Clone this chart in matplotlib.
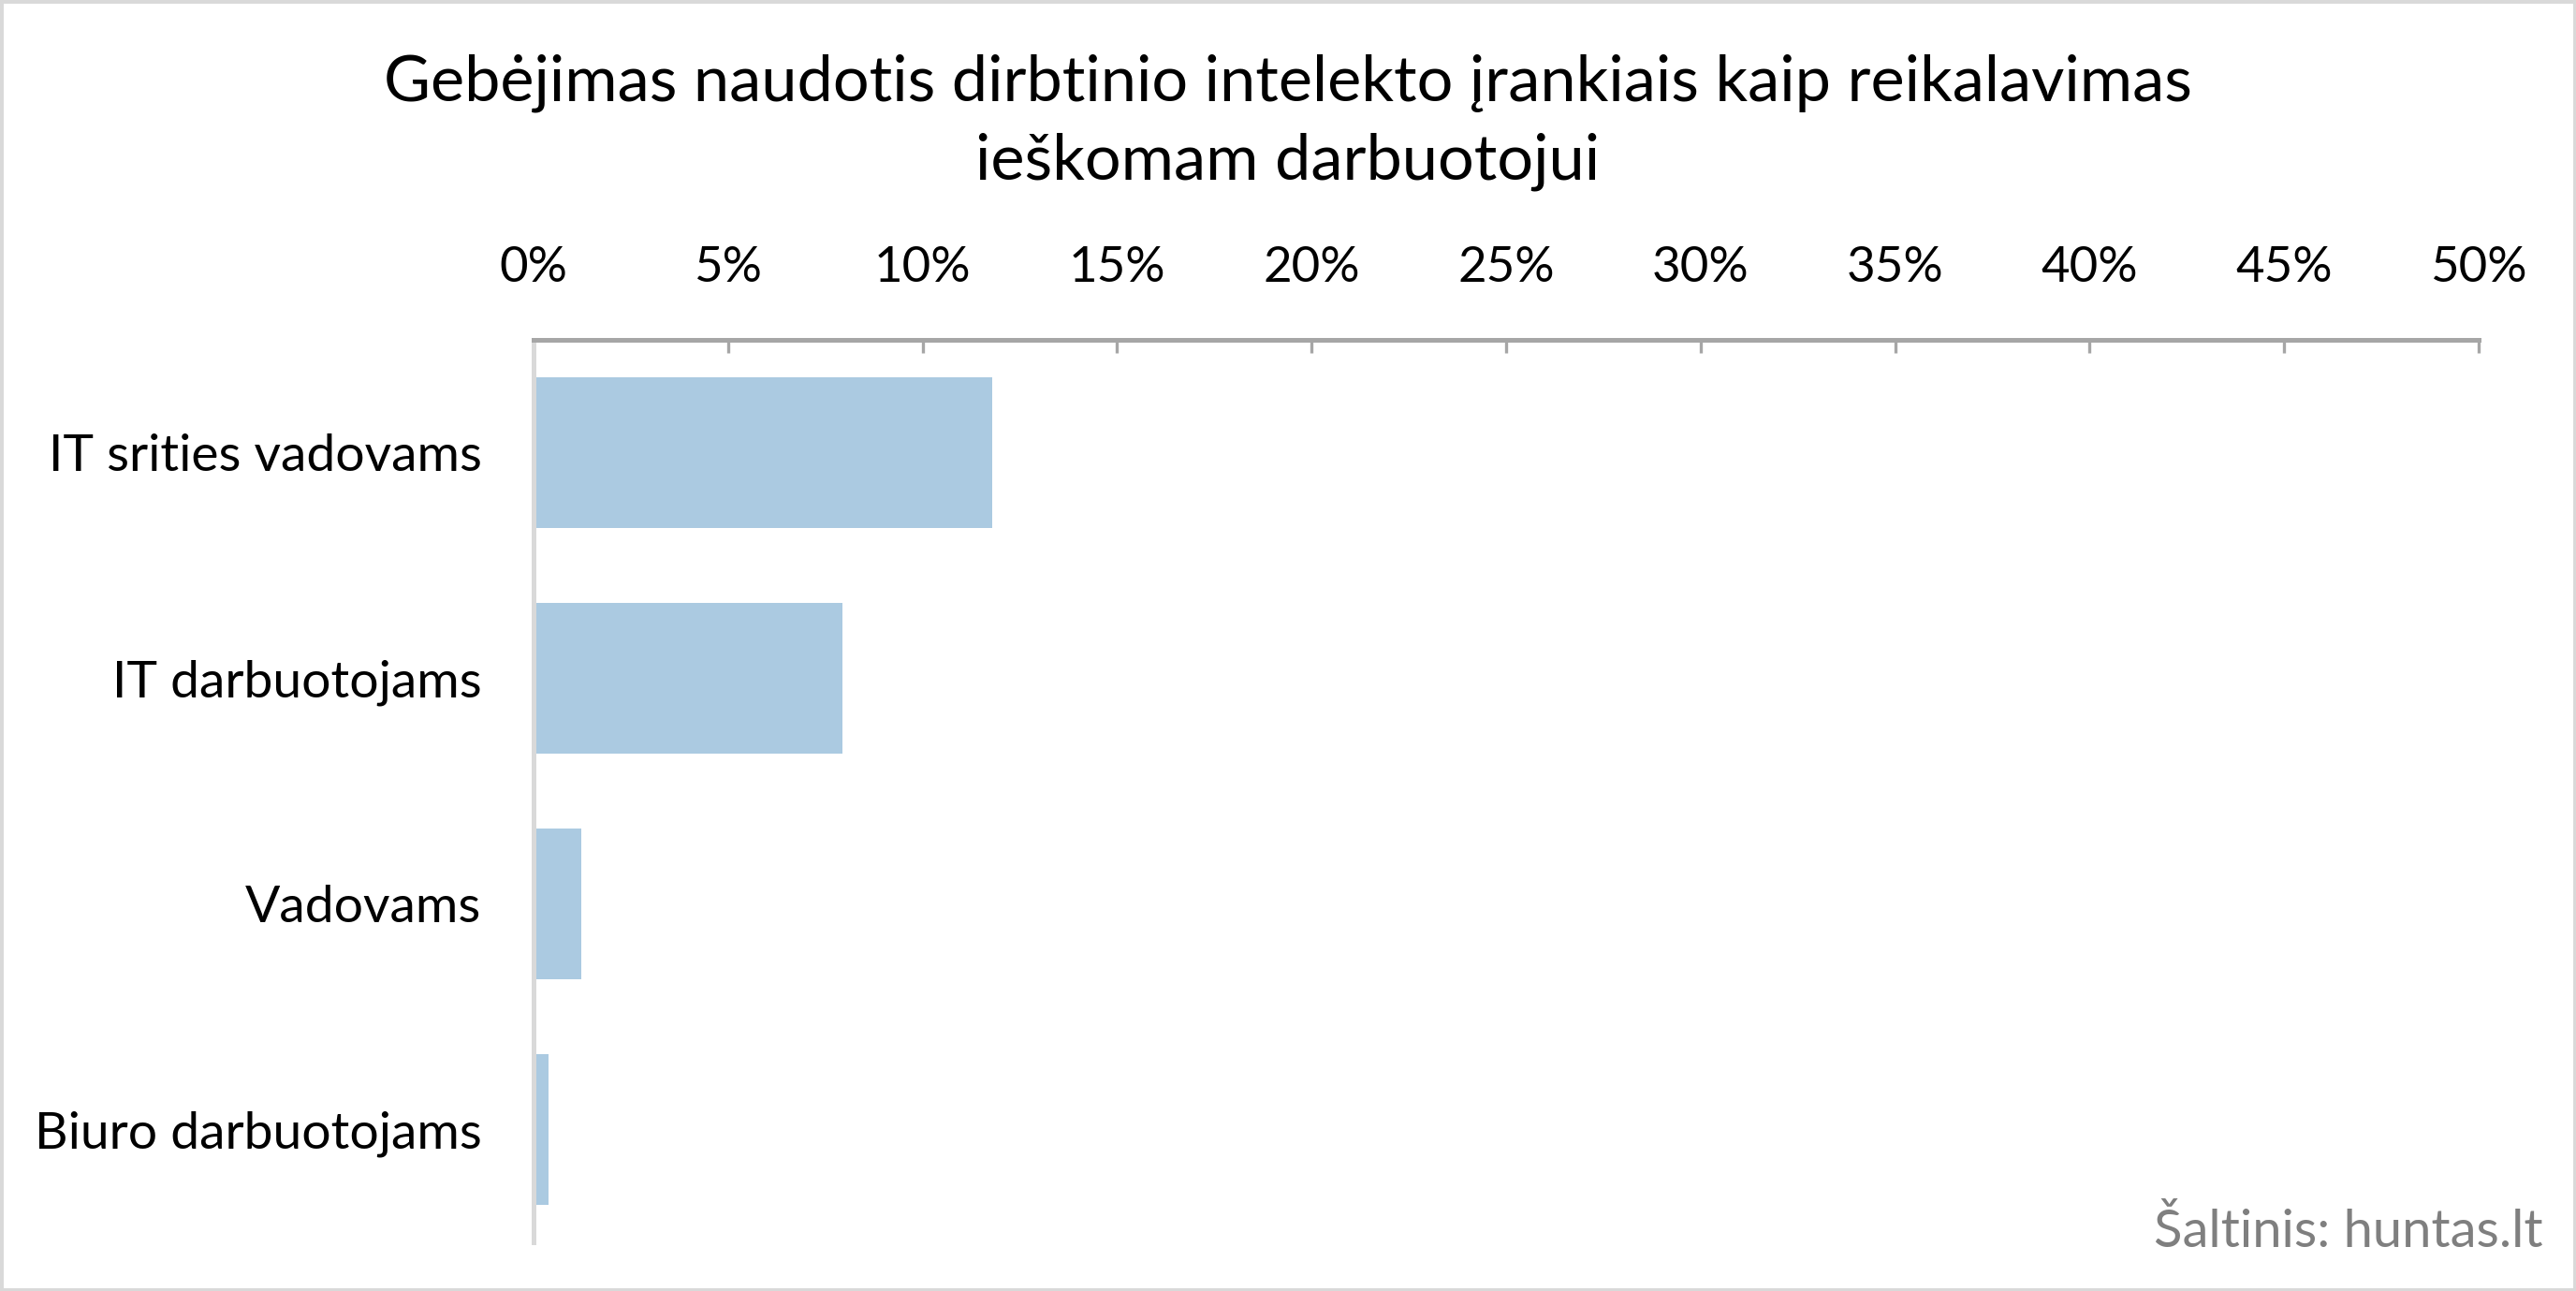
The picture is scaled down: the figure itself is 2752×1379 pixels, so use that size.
import matplotlib
matplotlib.use("Agg")
import matplotlib.pyplot as plt
from matplotlib.patches import Rectangle
from matplotlib.ticker import FuncFormatter, MultipleLocator

title = "Gebėjimas naudotis dirbtinio intelekto įrankiais kaip reikalavimas\nieškomam darbuotojui"
categories = ["IT srities vadovams", "IT darbuotojams", "Vadovams", "Biuro darbuotojams"]
values = [11.8, 7.95, 1.22, 0.39]
source = "Šaltinis: huntas.lt"

plt.rcParams['font.family'] = ['Lato', 'DejaVu Sans']

fig = plt.figure(figsize=(13.76, 6.895), dpi=200)
ax = fig.add_axes([0.2071, 0.0377, 0.7551, 0.6991])

y = list(range(len(categories)))
ax.barh(y, values, height=0.67, color='#ABCAE1', zorder=2)
ax.set_ylim(len(categories) - 0.5, -0.5)
ax.set_xlim(0, 50)
ax.xaxis.set_major_locator(MultipleLocator(5))
ax.xaxis.set_major_formatter(FuncFormatter(lambda v, p: f"{v:.0f}%"))
ax.xaxis.tick_top()
ax.tick_params(axis='x', direction='in', length=5, width=1.2, color='#A6A6A6',
               labelsize=19, pad=19, labelcolor='black')
ax.set_yticks(y)
ax.set_yticklabels(categories)
ax.tick_params(axis='y', length=0, labelsize=19.9, pad=20, labelcolor='black')

for s in ['right', 'bottom']:
    ax.spines[s].set_visible(False)
ax.spines['top'].set_color('#A6A6A6')
ax.spines['top'].set_linewidth(1.8)
ax.spines['left'].set_color('#D9D9D9')
ax.spines['left'].set_linewidth(1.8)

fig.text(0.5, 0.958, title, ha='center', va='top', fontsize=24.6, linespacing=1.42)
fig.text(0.987, 0.027, source, ha='right', va='bottom', fontsize=20.2, color='#7F7F7F')

fig.patches.append(Rectangle((0, 0), 1, 1, transform=fig.transFigure, fill=False,
                             edgecolor='#D9D9D9', linewidth=2.5))

fig.savefig("out.png", dpi=200)
